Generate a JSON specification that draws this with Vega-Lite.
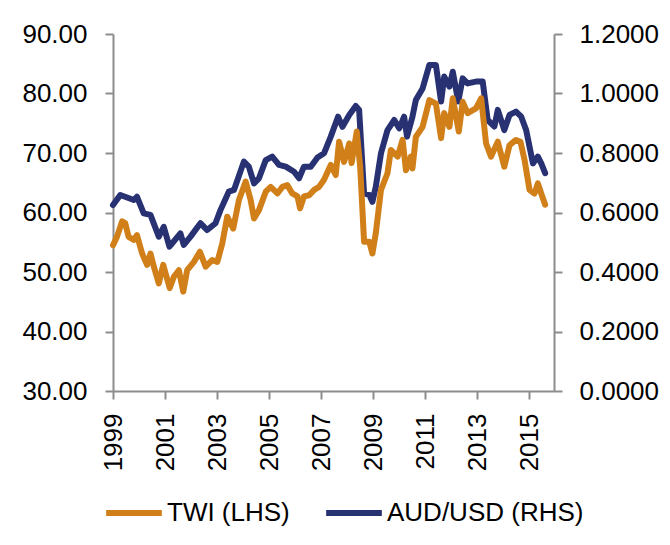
{
  "$schema": "https://vega.github.io/schema/vega-lite/v6.json",
  "autosize": "none",
  "width": 441,
  "height": 357,
  "padding": {"left": 113, "top": 34, "right": 116, "bottom": 154},
  "background": "white",
  "config": {
    "view": {"stroke": null},
    "font": "Liberation Sans",
    "axis": {
      "labelFont": "Liberation Sans",
      "labelFontSize": 26,
      "labelColor": "#000000",
      "domainColor": "#8C8C8C",
      "domainWidth": 2,
      "tickColor": "#8C8C8C",
      "tickWidth": 2,
      "tickSize": 8,
      "grid": false,
      "title": null
    }
  },
  "datasets": {
    "twi": [
      {"year": 1999.00, "value": 54.5, "series": "TWI (LHS)"},
      {"year": 1999.15, "value": 55.9, "series": "TWI (LHS)"},
      {"year": 1999.35, "value": 58.5, "series": "TWI (LHS)"},
      {"year": 1999.47, "value": 58.2, "series": "TWI (LHS)"},
      {"year": 1999.60, "value": 55.9, "series": "TWI (LHS)"},
      {"year": 1999.80, "value": 55.4, "series": "TWI (LHS)"},
      {"year": 1999.92, "value": 56.2, "series": "TWI (LHS)"},
      {"year": 2000.12, "value": 53.1, "series": "TWI (LHS)"},
      {"year": 2000.31, "value": 51.2, "series": "TWI (LHS)"},
      {"year": 2000.44, "value": 53.1, "series": "TWI (LHS)"},
      {"year": 2000.57, "value": 50.9, "series": "TWI (LHS)"},
      {"year": 2000.76, "value": 48.1, "series": "TWI (LHS)"},
      {"year": 2000.93, "value": 51.2, "series": "TWI (LHS)"},
      {"year": 2001.02, "value": 49.8, "series": "TWI (LHS)"},
      {"year": 2001.18, "value": 47.3, "series": "TWI (LHS)"},
      {"year": 2001.34, "value": 49.2, "series": "TWI (LHS)"},
      {"year": 2001.53, "value": 50.3, "series": "TWI (LHS)"},
      {"year": 2001.70, "value": 46.7, "series": "TWI (LHS)"},
      {"year": 2001.85, "value": 50.3, "series": "TWI (LHS)"},
      {"year": 2002.11, "value": 51.7, "series": "TWI (LHS)"},
      {"year": 2002.34, "value": 53.4, "series": "TWI (LHS)"},
      {"year": 2002.56, "value": 50.9, "series": "TWI (LHS)"},
      {"year": 2002.81, "value": 52.0, "series": "TWI (LHS)"},
      {"year": 2003.01, "value": 51.7, "series": "TWI (LHS)"},
      {"year": 2003.20, "value": 54.8, "series": "TWI (LHS)"},
      {"year": 2003.39, "value": 59.3, "series": "TWI (LHS)"},
      {"year": 2003.62, "value": 57.3, "series": "TWI (LHS)"},
      {"year": 2003.84, "value": 62.1, "series": "TWI (LHS)"},
      {"year": 2004.10, "value": 65.2, "series": "TWI (LHS)"},
      {"year": 2004.29, "value": 62.1, "series": "TWI (LHS)"},
      {"year": 2004.42, "value": 59.0, "series": "TWI (LHS)"},
      {"year": 2004.61, "value": 60.4, "series": "TWI (LHS)"},
      {"year": 2004.87, "value": 63.5, "series": "TWI (LHS)"},
      {"year": 2005.06, "value": 64.3, "series": "TWI (LHS)"},
      {"year": 2005.32, "value": 63.2, "series": "TWI (LHS)"},
      {"year": 2005.51, "value": 64.3, "series": "TWI (LHS)"},
      {"year": 2005.70, "value": 64.6, "series": "TWI (LHS)"},
      {"year": 2005.89, "value": 63.2, "series": "TWI (LHS)"},
      {"year": 2006.09, "value": 62.7, "series": "TWI (LHS)"},
      {"year": 2006.19, "value": 60.7, "series": "TWI (LHS)"},
      {"year": 2006.34, "value": 62.7, "series": "TWI (LHS)"},
      {"year": 2006.54, "value": 62.9, "series": "TWI (LHS)"},
      {"year": 2006.73, "value": 63.8, "series": "TWI (LHS)"},
      {"year": 2006.92, "value": 64.3, "series": "TWI (LHS)"},
      {"year": 2007.11, "value": 65.5, "series": "TWI (LHS)"},
      {"year": 2007.37, "value": 68.0, "series": "TWI (LHS)"},
      {"year": 2007.56, "value": 66.3, "series": "TWI (LHS)"},
      {"year": 2007.69, "value": 71.9, "series": "TWI (LHS)"},
      {"year": 2007.88, "value": 68.5, "series": "TWI (LHS)"},
      {"year": 2008.08, "value": 71.6, "series": "TWI (LHS)"},
      {"year": 2008.17, "value": 68.3, "series": "TWI (LHS)"},
      {"year": 2008.37, "value": 73.6, "series": "TWI (LHS)"},
      {"year": 2008.50, "value": 67.7, "series": "TWI (LHS)"},
      {"year": 2008.65, "value": 55.1, "series": "TWI (LHS)"},
      {"year": 2008.85, "value": 55.1, "series": "TWI (LHS)"},
      {"year": 2008.97, "value": 53.1, "series": "TWI (LHS)"},
      {"year": 2009.10, "value": 56.5, "series": "TWI (LHS)"},
      {"year": 2009.30, "value": 63.8, "series": "TWI (LHS)"},
      {"year": 2009.55, "value": 66.6, "series": "TWI (LHS)"},
      {"year": 2009.68, "value": 70.5, "series": "TWI (LHS)"},
      {"year": 2009.94, "value": 69.4, "series": "TWI (LHS)"},
      {"year": 2010.13, "value": 72.2, "series": "TWI (LHS)"},
      {"year": 2010.26, "value": 67.1, "series": "TWI (LHS)"},
      {"year": 2010.45, "value": 69.4, "series": "TWI (LHS)"},
      {"year": 2010.51, "value": 67.4, "series": "TWI (LHS)"},
      {"year": 2010.64, "value": 72.7, "series": "TWI (LHS)"},
      {"year": 2010.90, "value": 74.4, "series": "TWI (LHS)"},
      {"year": 2011.16, "value": 78.9, "series": "TWI (LHS)"},
      {"year": 2011.41, "value": 78.3, "series": "TWI (LHS)"},
      {"year": 2011.61, "value": 72.5, "series": "TWI (LHS)"},
      {"year": 2011.73, "value": 76.7, "series": "TWI (LHS)"},
      {"year": 2011.93, "value": 74.4, "series": "TWI (LHS)"},
      {"year": 2012.06, "value": 79.2, "series": "TWI (LHS)"},
      {"year": 2012.29, "value": 73.6, "series": "TWI (LHS)"},
      {"year": 2012.44, "value": 78.6, "series": "TWI (LHS)"},
      {"year": 2012.63, "value": 76.7, "series": "TWI (LHS)"},
      {"year": 2012.95, "value": 77.5, "series": "TWI (LHS)"},
      {"year": 2013.15, "value": 79.2, "series": "TWI (LHS)"},
      {"year": 2013.34, "value": 71.6, "series": "TWI (LHS)"},
      {"year": 2013.53, "value": 69.4, "series": "TWI (LHS)"},
      {"year": 2013.79, "value": 71.9, "series": "TWI (LHS)"},
      {"year": 2014.04, "value": 67.7, "series": "TWI (LHS)"},
      {"year": 2014.24, "value": 71.3, "series": "TWI (LHS)"},
      {"year": 2014.49, "value": 72.2, "series": "TWI (LHS)"},
      {"year": 2014.66, "value": 71.9, "series": "TWI (LHS)"},
      {"year": 2014.82, "value": 68.8, "series": "TWI (LHS)"},
      {"year": 2015.01, "value": 63.8, "series": "TWI (LHS)"},
      {"year": 2015.20, "value": 63.2, "series": "TWI (LHS)"},
      {"year": 2015.33, "value": 64.9, "series": "TWI (LHS)"},
      {"year": 2015.46, "value": 63.2, "series": "TWI (LHS)"},
      {"year": 2015.61, "value": 61.3, "series": "TWI (LHS)"}
    ],
    "aud": [
      {"year": 1999.00, "value": 0.625, "series": "AUD/USD (RHS)"},
      {"year": 1999.28, "value": 0.659, "series": "AUD/USD (RHS)"},
      {"year": 1999.80, "value": 0.642, "series": "AUD/USD (RHS)"},
      {"year": 1999.92, "value": 0.653, "series": "AUD/USD (RHS)"},
      {"year": 2000.18, "value": 0.597, "series": "AUD/USD (RHS)"},
      {"year": 2000.44, "value": 0.592, "series": "AUD/USD (RHS)"},
      {"year": 2000.76, "value": 0.519, "series": "AUD/USD (RHS)"},
      {"year": 2000.95, "value": 0.552, "series": "AUD/USD (RHS)"},
      {"year": 2001.17, "value": 0.485, "series": "AUD/USD (RHS)"},
      {"year": 2001.59, "value": 0.530, "series": "AUD/USD (RHS)"},
      {"year": 2001.72, "value": 0.491, "series": "AUD/USD (RHS)"},
      {"year": 2001.98, "value": 0.519, "series": "AUD/USD (RHS)"},
      {"year": 2002.36, "value": 0.564, "series": "AUD/USD (RHS)"},
      {"year": 2002.62, "value": 0.541, "series": "AUD/USD (RHS)"},
      {"year": 2002.94, "value": 0.564, "series": "AUD/USD (RHS)"},
      {"year": 2003.13, "value": 0.608, "series": "AUD/USD (RHS)"},
      {"year": 2003.45, "value": 0.670, "series": "AUD/USD (RHS)"},
      {"year": 2003.65, "value": 0.676, "series": "AUD/USD (RHS)"},
      {"year": 2004.03, "value": 0.771, "series": "AUD/USD (RHS)"},
      {"year": 2004.22, "value": 0.754, "series": "AUD/USD (RHS)"},
      {"year": 2004.42, "value": 0.698, "series": "AUD/USD (RHS)"},
      {"year": 2004.61, "value": 0.715, "series": "AUD/USD (RHS)"},
      {"year": 2004.87, "value": 0.776, "series": "AUD/USD (RHS)"},
      {"year": 2005.12, "value": 0.788, "series": "AUD/USD (RHS)"},
      {"year": 2005.38, "value": 0.760, "series": "AUD/USD (RHS)"},
      {"year": 2005.64, "value": 0.754, "series": "AUD/USD (RHS)"},
      {"year": 2005.96, "value": 0.737, "series": "AUD/USD (RHS)"},
      {"year": 2006.15, "value": 0.715, "series": "AUD/USD (RHS)"},
      {"year": 2006.34, "value": 0.754, "series": "AUD/USD (RHS)"},
      {"year": 2006.60, "value": 0.754, "series": "AUD/USD (RHS)"},
      {"year": 2006.86, "value": 0.785, "series": "AUD/USD (RHS)"},
      {"year": 2007.11, "value": 0.799, "series": "AUD/USD (RHS)"},
      {"year": 2007.37, "value": 0.855, "series": "AUD/USD (RHS)"},
      {"year": 2007.65, "value": 0.922, "series": "AUD/USD (RHS)"},
      {"year": 2007.82, "value": 0.888, "series": "AUD/USD (RHS)"},
      {"year": 2008.08, "value": 0.928, "series": "AUD/USD (RHS)"},
      {"year": 2008.33, "value": 0.958, "series": "AUD/USD (RHS)"},
      {"year": 2008.46, "value": 0.945, "series": "AUD/USD (RHS)"},
      {"year": 2008.65, "value": 0.664, "series": "AUD/USD (RHS)"},
      {"year": 2008.85, "value": 0.659, "series": "AUD/USD (RHS)"},
      {"year": 2008.97, "value": 0.636, "series": "AUD/USD (RHS)"},
      {"year": 2009.10, "value": 0.686, "series": "AUD/USD (RHS)"},
      {"year": 2009.30, "value": 0.799, "series": "AUD/USD (RHS)"},
      {"year": 2009.55, "value": 0.877, "series": "AUD/USD (RHS)"},
      {"year": 2009.81, "value": 0.911, "series": "AUD/USD (RHS)"},
      {"year": 2010.00, "value": 0.883, "series": "AUD/USD (RHS)"},
      {"year": 2010.19, "value": 0.922, "series": "AUD/USD (RHS)"},
      {"year": 2010.30, "value": 0.855, "series": "AUD/USD (RHS)"},
      {"year": 2010.51, "value": 0.922, "series": "AUD/USD (RHS)"},
      {"year": 2010.64, "value": 0.978, "series": "AUD/USD (RHS)"},
      {"year": 2010.90, "value": 1.017, "series": "AUD/USD (RHS)"},
      {"year": 2011.16, "value": 1.096, "series": "AUD/USD (RHS)"},
      {"year": 2011.41, "value": 1.096, "series": "AUD/USD (RHS)"},
      {"year": 2011.61, "value": 0.973, "series": "AUD/USD (RHS)"},
      {"year": 2011.73, "value": 1.057, "series": "AUD/USD (RHS)"},
      {"year": 2011.93, "value": 1.023, "series": "AUD/USD (RHS)"},
      {"year": 2012.06, "value": 1.073, "series": "AUD/USD (RHS)"},
      {"year": 2012.27, "value": 0.973, "series": "AUD/USD (RHS)"},
      {"year": 2012.44, "value": 1.051, "series": "AUD/USD (RHS)"},
      {"year": 2012.63, "value": 1.034, "series": "AUD/USD (RHS)"},
      {"year": 2012.95, "value": 1.040, "series": "AUD/USD (RHS)"},
      {"year": 2013.21, "value": 1.040, "series": "AUD/USD (RHS)"},
      {"year": 2013.40, "value": 0.911, "series": "AUD/USD (RHS)"},
      {"year": 2013.66, "value": 0.889, "series": "AUD/USD (RHS)"},
      {"year": 2013.79, "value": 0.945, "series": "AUD/USD (RHS)"},
      {"year": 2014.04, "value": 0.877, "series": "AUD/USD (RHS)"},
      {"year": 2014.24, "value": 0.928, "series": "AUD/USD (RHS)"},
      {"year": 2014.49, "value": 0.939, "series": "AUD/USD (RHS)"},
      {"year": 2014.69, "value": 0.922, "series": "AUD/USD (RHS)"},
      {"year": 2014.88, "value": 0.877, "series": "AUD/USD (RHS)"},
      {"year": 2015.14, "value": 0.765, "series": "AUD/USD (RHS)"},
      {"year": 2015.33, "value": 0.788, "series": "AUD/USD (RHS)"},
      {"year": 2015.46, "value": 0.765, "series": "AUD/USD (RHS)"},
      {"year": 2015.61, "value": 0.732, "series": "AUD/USD (RHS)"}
    ]
  },
  "encoding": {
    "x": {
      "field": "year",
      "type": "quantitative",
      "scale": {"domain": [1999, 2015.95], "nice": false, "zero": false},
      "axis": {
        "values": [1999, 2001, 2003, 2005, 2007, 2009, 2011, 2013, 2015],
        "format": "d",
        "labelAngle": 270,
        "labelAlign": "right",
        "labelBaseline": "middle",
        "labelPadding": 14,
        "labelOverlap": false,
        "labelFlush": false
      }
    },
    "color": {
      "field": "series",
      "type": "nominal",
      "scale": {"domain": ["TWI (LHS)", "AUD/USD (RHS)"], "range": ["#D07F19", "#283273"]},
      "legend": {
        "title": null,
        "orient": "none",
        "direction": "horizontal",
        "legendX": -10,
        "legendY": 448,
        "symbolType": "stroke",
        "symbolSize": 3100,
        "symbolStrokeWidth": 6,
        "labelFont": "Liberation Sans",
        "labelFontSize": 26,
        "labelColor": "#000000",
        "labelLimit": 0,
        "labelOffset": 2,
        "columnPadding": 24,
        "symbolOffset": 0
      }
    }
  },
  "layer": [
    {
      "data": {"name": "aud"},
      "mark": {"type": "line", "strokeWidth": 6, "strokeJoin": "round", "strokeCap": "round"},
      "encoding": {
        "y": {
          "field": "value",
          "type": "quantitative",
          "scale": {"domain": [0, 1.2], "nice": false},
          "axis": {"orient": "right", "values": [0, 0.2, 0.4, 0.6, 0.8, 1.0, 1.2], "format": ".4f", "labelPadding": 17}
        }
      }
    },
    {
      "data": {"name": "twi"},
      "mark": {"type": "line", "strokeWidth": 6, "strokeJoin": "round", "strokeCap": "round"},
      "encoding": {
        "y": {
          "field": "value",
          "type": "quantitative",
          "scale": {"domain": [30, 90], "nice": false, "zero": false},
          "axis": {"orient": "left", "values": [30, 40, 50, 60, 70, 80, 90], "format": ".2f", "labelPadding": 18}
        }
      }
    }
  ],
  "resolve": {"scale": {"y": "independent"}}
}
